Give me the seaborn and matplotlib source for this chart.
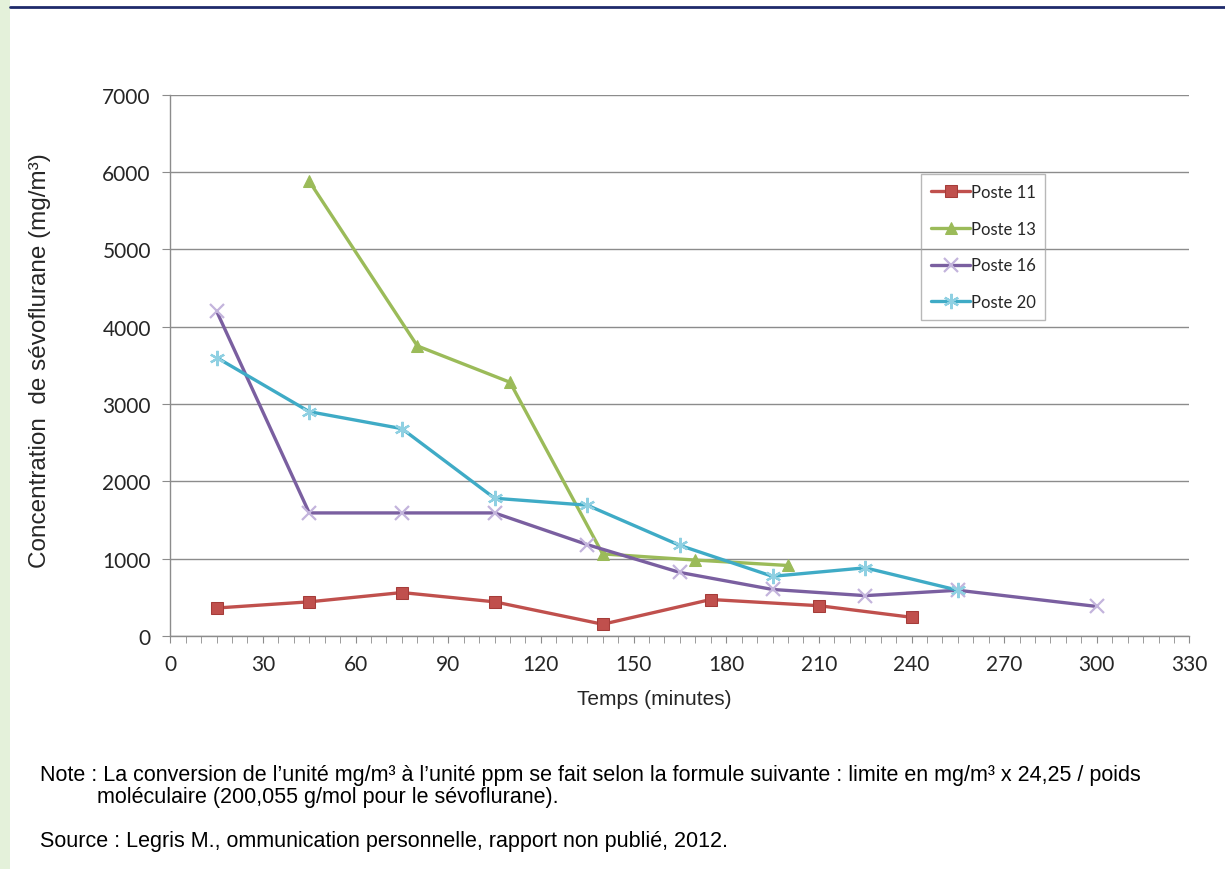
import matplotlib
matplotlib.use("Agg")
import matplotlib.pyplot as plt
from matplotlib.lines import Line2D
from matplotlib.patches import Rectangle
from matplotlib.ticker import MultipleLocator
import pandas as pd
import seaborn as sns

# values
t11 = [15, 45, 75, 105, 140, 175, 210, 240]
c11 = [360, 440, 560, 440, 150, 470, 390, 240]
t13 = [45, 80, 110, 140, 170, 200]
c13 = [5880, 3750, 3280, 1060, 980, 910]
t16 = [15, 45, 75, 105, 135, 165, 195, 225, 255, 300]
c16 = [4200, 1590, 1590, 1590, 1180, 820, 600, 520, 590, 380]
t20 = [15, 45, 75, 105, 135, 165, 195, 225, 255]
c20 = [3600, 2900, 2680, 1780, 1690, 1170, 770, 880, 590]
series = ["Poste 11", "Poste 13", "Poste 16", "Poste 20"]

frames = []
for name, t, c in zip(series, [t11, t13, t16, t20], [c11, c13, c16, c20]):
    frames.append(pd.DataFrame({"temps": t, "conc": c, "poste": name}))
df = pd.concat(frames, ignore_index=True)

sns.set_style("white")
plt.rcParams["font.family"] = ["Lato", "DejaVu Sans"]

colors = {"Poste 11": "#c0504d", "Poste 13": "#9bbb59",
          "Poste 16": "#7a5fa0", "Poste 20": "#3fabc6"}
styles = {
    "Poste 11": dict(marker="s", markersize=9, markerfacecolor="#c0504d", markeredgecolor="#a53c39"),
    "Poste 13": dict(marker="^", markersize=9, markerfacecolor="#9bbb59", markeredgecolor="#9bbb59"),
    "Poste 16": dict(marker="x", markersize=10, markeredgecolor="#c3b4dc", markeredgewidth=1.6),
    "Poste 20": dict(marker=(6, 2, 0), markersize=11, markeredgecolor="#8fd0e2", markeredgewidth=1.6),
}

fig = plt.figure(figsize=(12.25, 8.7), dpi=100)
fig.patch.set_facecolor("white")
fig.patches.append(Rectangle((0, 0), 10 / 1225, 1, transform=fig.transFigure,
                             facecolor="#e4f1da", edgecolor="none", zorder=0))
fig.add_artist(Line2D([10 / 1225, 1], [0.9905, 0.9905], transform=fig.transFigure,
                      color="#1f2a6b", lw=2))

ax = fig.add_axes([0.139, 0.268, 0.832, 0.622])
for name in series:
    sub = df[df["poste"] == name]
    sns.lineplot(data=sub, x="temps", y="conc", ax=ax, color=colors[name],
                 linewidth=2.4, label=name, **styles[name])

ax.set_xlim(0, 330)
ax.set_ylim(0, 7000)
ax.xaxis.set_major_locator(MultipleLocator(30))
ax.xaxis.set_minor_locator(MultipleLocator(5))
ax.yaxis.set_major_locator(MultipleLocator(1000))
ax.grid(axis="y", color="#8c8c8c", linewidth=1)
ax.grid(axis="x", visible=False)
for s in ["top", "right"]:
    ax.spines[s].set_visible(False)
for s in ["left", "bottom"]:
    ax.spines[s].set_color("#8c8c8c")
    ax.spines[s].set_linewidth(1)
ax.tick_params(axis="y", which="major", direction="out", length=6, color="#8c8c8c",
               labelsize=15, pad=8, left=True)
ax.tick_params(axis="x", which="both", direction="out", length=5, color="#8c8c8c",
               labelsize=15, pad=8, bottom=True)

ax.set_xlabel("Temps (minutes)", fontsize=15, family="Liberation Sans")
ax.set_ylabel("Concentration  de sévoflurane (mg/m³)", fontsize=17.5, family="Liberation Sans")
ax.xaxis.set_label_coords(0.475, -0.098)
ax.yaxis.set_label_coords(-0.117, 0.51)

leg = ax.legend(loc="upper left", bbox_to_anchor=(0.737, 0.854), borderaxespad=0,
                fontsize=12, frameon=True, fancybox=False, labelspacing=1.25,
                handlelength=2.3, handletextpad=0.05, borderpad=0.6, numpoints=1)
leg.get_frame().set_edgecolor("#a6a6a6")
leg.get_frame().set_facecolor("none")
leg.get_frame().set_linewidth(1)

note_font = dict(fontsize=15.5, family="Liberation Sans", color="black", va="center")
fig.text(40 / 1225, 1 - 776 / 870,
         "Note : La conversion de l’unité mg/m³ à l’unité ppm se fait selon la formule suivante : "
         "limite en mg/m³ x 24,25 / poids", **note_font)
fig.text(97 / 1225, 1 - 798 / 870, "moléculaire (200,055 g/mol pour le sévoflurane).", **note_font)
fig.text(40 / 1225, 1 - 842 / 870,
         "Source : Legris M., ommunication personnelle, rapport non publié, 2012.", **note_font)

fig.savefig("out.png", dpi=100)
